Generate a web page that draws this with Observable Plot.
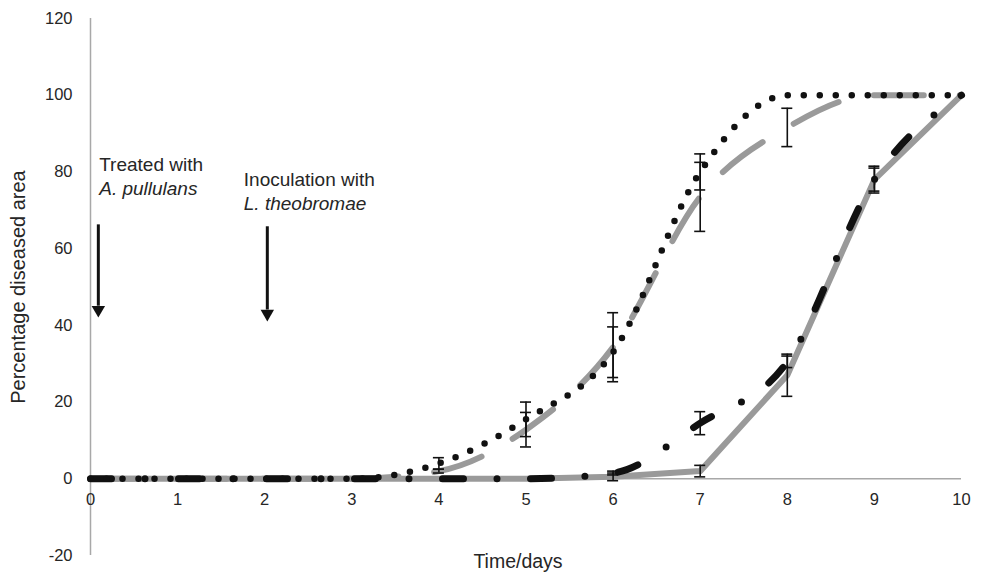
<!DOCTYPE html>
<html><head><meta charset="utf-8">
<script src="https://cdn.jsdelivr.net/npm/d3@7"></script>
<script src="https://cdn.jsdelivr.net/npm/@observablehq/plot@0.6"></script>
<style>body{margin:0;background:#fff;}</style>
</head><body><div id="chart"></div>
<script>
// Data
const days = [0, 1, 2, 3, 4, 5, 6, 7, 8, 9, 10];
const dottedValues   = [0, 0, 0, 0, 4, 15.5, 33, 80, 100, 100, 100];
const dottedErrors   = [0, 0, 0, 0, 1.5, 4.5, 6.6, 4.7, 0, 0, 0];
const grayDashValues = [0, 0, 0, 0, 2, 12.8, 34.3, 73.5, 91.6, 100, 100];
const grayDashErrors = [0, 0, 0, 0, 0.5, 4.5, 9, 9, 5, 0, 0];
const dashDotValues  = [0, 0, 0, 0, 0, 0, 1.5, 14.5, 30.5, 78, 100];
const dashDotErrors  = [0, 0, 0, 0, 0, 0, 0.5, 3, 1.5, 3, 0];
const graySolidValues = [0, 0, 0, 0, 0, 0, 0.5, 2, 27, 78, 100];
const graySolidErrors = [0, 0, 0, 0, 0, 0, 1, 1.5, 5.5, 3.5, 0];
const yTicks = [-20, 0, 20, 40, 60, 80, 100, 120];
const xTicks = [0, 1, 2, 3, 4, 5, 6, 7, 8, 9, 10];
const arrowDays = [0.09, 2.03];
const arrowTops = [66.2, 65.7];
const arrowTips = [42.5, 41.5];
const noteLine1 = ["Treated with", "Inoculation with"];
const noteLine2 = ["A. pullulans", "L. theobromae"];
const noteX = [0.1, 1.76];
const noteY1 = [81.9, 78];
const noteY2 = [75.6, 71.7];

const rows = (values, errors) => days.map((d, i) => ({day: d, value: values[i], err: errors[i]}));
const dotted = rows(dottedValues, dottedErrors);
const grayDash = rows(grayDashValues, grayDashErrors);
const dashDot = rows(dashDotValues, dashDotErrors);
const graySolid = rows(graySolidValues, graySolidErrors);
const arrows = arrowDays.map((x, i) => ({x, top: arrowTops[i], tip: arrowTips[i]}));
const notes = noteX.map((x, i) => ({x, y1: noteY1[i], y2: noteY2[i], l1: noteLine1[i], l2: noteLine2[i]}));

const ink = "#111";
const gray = "#9a9a9a";
const textColor = "#262626";

function errorBars(data) {
  const e = data.filter(d => d.err > 0);
  return [
    Plot.ruleX(e, {x: "day", y1: d => d.value - d.err, y2: d => d.value + d.err, stroke: ink, strokeWidth: 1.6}),
    Plot.ruleY(e, {y: d => d.value + d.err, x1: "day", x2: "day", insetLeft: -5.5, insetRight: -5.5, stroke: ink, strokeWidth: 1.6}),
    Plot.ruleY(e, {y: d => d.value - d.err, x1: "day", x2: "day", insetLeft: -5.5, insetRight: -5.5, stroke: ink, strokeWidth: 1.6})
  ];
}

const chart = Plot.plot({
  width: 982,
  height: 581,
  marginLeft: 90,
  marginRight: 21,
  marginTop: 18,
  marginBottom: 26,
  x: {domain: [0, 10], axis: null},
  y: {domain: [-20, 120], axis: null},
  style: {fontFamily: "'Liberation Sans', Arial, sans-serif", background: "#fff", color: textColor},
  marks: [
    Plot.ruleX([0], {stroke: "#a8a8a8", strokeWidth: 1.5}),
    Plot.ruleY([0], {stroke: "#a8a8a8", strokeWidth: 1.5}),
    Plot.axisY(yTicks, {tickSize: 0, tickPadding: 18, fontSize: 16.5, fill: textColor, label: null, tickFormat: d => String(d)}),
    Plot.text(xTicks, {x: d => d, y: 0, dy: 21, text: d => String(d), fontSize: 16.5, fill: textColor}),
    Plot.text(["Percentage diseased area"], {frameAnchor: "left", dx: -72, rotate: -90, textAnchor: "middle", fontSize: 20, fill: textColor}),
    Plot.text(["Time/days"], {frameAnchor: "bottom", dx: -8, dy: 12, fontSize: 19.5, fill: textColor}),
    // series
    Plot.line(graySolid, {x: "day", y: "value", stroke: gray, strokeWidth: 6, strokeLinejoin: "round", strokeLinecap: "round"}),
    ...errorBars(graySolid),
    Plot.line(grayDash, {x: "day", y: "value", curve: "monotone-x", stroke: gray, strokeWidth: 6, strokeDasharray: "50 36", strokeLinecap: "round"}),
    ...errorBars(grayDash),
    Plot.line(dashDot, {x: "day", y: "value", curve: "monotone-x", stroke: ink, strokeWidth: 7, strokeDasharray: "21 33.5 0 33.5", strokeLinecap: "round"}),
    ...errorBars(dashDot),
    Plot.line(dotted, {x: "day", y: "value", curve: "monotone-x", stroke: ink, strokeWidth: 6.5, strokeDasharray: "0 16", strokeLinecap: "round"}),
    ...errorBars(dotted),
    // annotations
    Plot.ruleX(arrows, {x: "x", y1: "top", y2: d => d.tip + 2.5, stroke: ink, strokeWidth: 3}),
    Plot.dot(arrows, {x: "x", y: "tip", symbol: "triangle", rotate: 180, r: 5, fill: ink, stroke: "none", dy: -6}),
    Plot.text(notes, {x: "x", y: "y1", text: "l1", textAnchor: "start", fontSize: 19, fill: textColor}),
    Plot.text(notes, {x: "x", y: "y2", text: "l2", textAnchor: "start", fontSize: 19, fontStyle: "italic", fill: textColor})
  ]
});
document.getElementById("chart").appendChild(chart);
</script>
</body></html>
